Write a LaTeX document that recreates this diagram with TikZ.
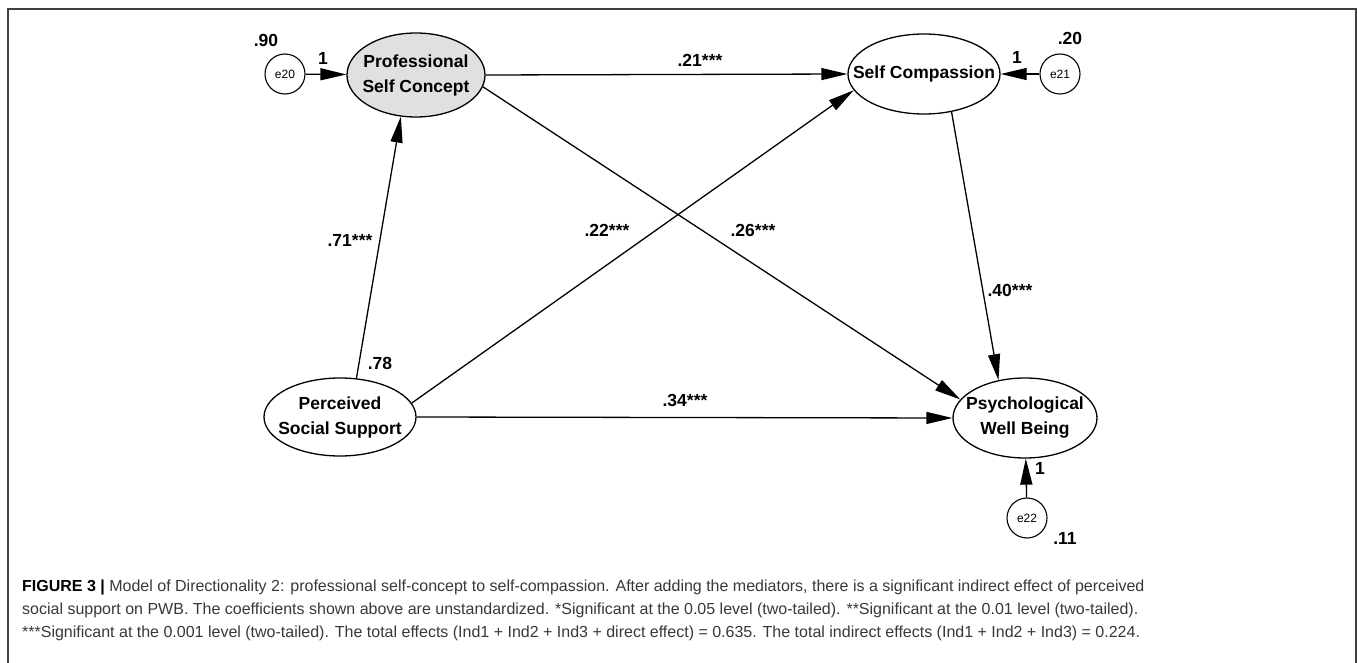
\documentclass[tikz,border=0pt]{standalone}
\usepackage{fontspec}
\setmainfont{Liberation Sans}
\usetikzlibrary{arrows.meta,shapes.geometric}
\begin{document}
\begin{tikzpicture}[x=1pt,y=-1pt,
  lat/.style={ellipse, draw, line width=1.3pt, inner sep=0pt},
  lattext/.style={align=center, inner sep=0pt, font=\fontsize{17.5}{25}\selectfont\bfseries},
  errc/.style={circle, draw, line width=1.1pt, minimum size=40pt, inner sep=0pt, font=\fontsize{12}{13}\selectfont},
  conn/.style={line width=1.3pt, -{Triangle[length=26pt,width=12pt]}},
  lab/.style={font=\fontsize{17.5}{19}\selectfont\bfseries, inner sep=0pt},
  captext/.style={anchor=base west, inner sep=0pt, font=\fontsize{16}{18}\selectfont, text=black!78}
]
\useasboundingbox (0,0) rectangle (1357,663);
\draw[line width=2pt, black!75] (8,670) -- (8,9) -- (1356,9) -- (1356,670);

% latent variables
\node[lat, fill=black!12, minimum width=138pt, minimum height=84pt] (psc) at (416,75) {};
\node[lattext] at (psc) {Professional\\Self Concept};
\node[lat, minimum width=152pt, minimum height=80pt] (sc) at (924,74) {};
\node[lattext] at (sc) {Self Compassion};
\node[lat, minimum width=152pt, minimum height=78pt] (pss) at (340,417) {};
\node[lattext] at (pss) {Perceived\\Social Support};
\node[lat, minimum width=144pt, minimum height=80pt] (pwb) at (1025,418) {};
\node[lattext] at (pwb) {Psychological\\Well Being};

% error terms
\node[errc] (e20) at (285,74) {e20};
\node[errc] (e21) at (1060,74) {e21};
\node[errc] (e22) at (1027,518) {e22};

% connectors
\draw[conn] (e20) -- (psc);
\draw[conn] (e21) -- (sc);
\draw[conn] (e22) -- (pwb);
\draw[conn] (psc.east) -- (sc.west);
\draw[conn] (pss.67) -- (psc.250);
\draw[conn] (pss.11) -- (sc.193);
\draw[conn] (psc.-10) -- (pwb.164);
\draw[conn] (sc.-54) -- (pwb.125);
\draw[conn] (pss.east) -- (pwb.west);

% labels
\node[lab] (l90) at (266,40) {.90};
\node[lab] (l1a) at (323,58) {1};
\node[lab] (l21) at (700,60) {.21***};
\node[lab] (l1b) at (1017,57) {1};
\node[lab] (l20) at (1070,38) {.20};
\node[lab] (l71) at (350,240) {.71***};
\node[lab] (l22) at (607,230) {.22***};
\node[lab] (l26) at (753,230) {.26***};
\node[lab] (l40) at (1010,290) {.40***};
\node[lab] (l78) at (380,363) {.78};
\node[lab] (l34) at (685,400) {.34***};
\node[lab] (l1c) at (1040,468) {1};
\node[lab] (l11) at (1065,538) {.11};

% caption
\node[captext] (c1) at (22,591) {{\bfseries\color{black}FIGURE 3 |} Model of Directionality 2: professional self-concept to self-compassion. After adding the mediators, there is a significant indirect effect of perceived};
\node[captext] (c2) at (22,614) {social support on PWB. The coefficients shown above are unstandardized. *Significant at the 0.05 level (two-tailed). **Significant at the 0.01 level (two-tailed).};
\node[captext] (c3) at (22,637) {***Significant at the 0.001 level (two-tailed). The total effects (Ind1 + Ind2 + Ind3 + direct effect) = 0.635. The total indirect effects (Ind1 + Ind2 + Ind3) = 0.224.};
\end{tikzpicture}
\end{document}
